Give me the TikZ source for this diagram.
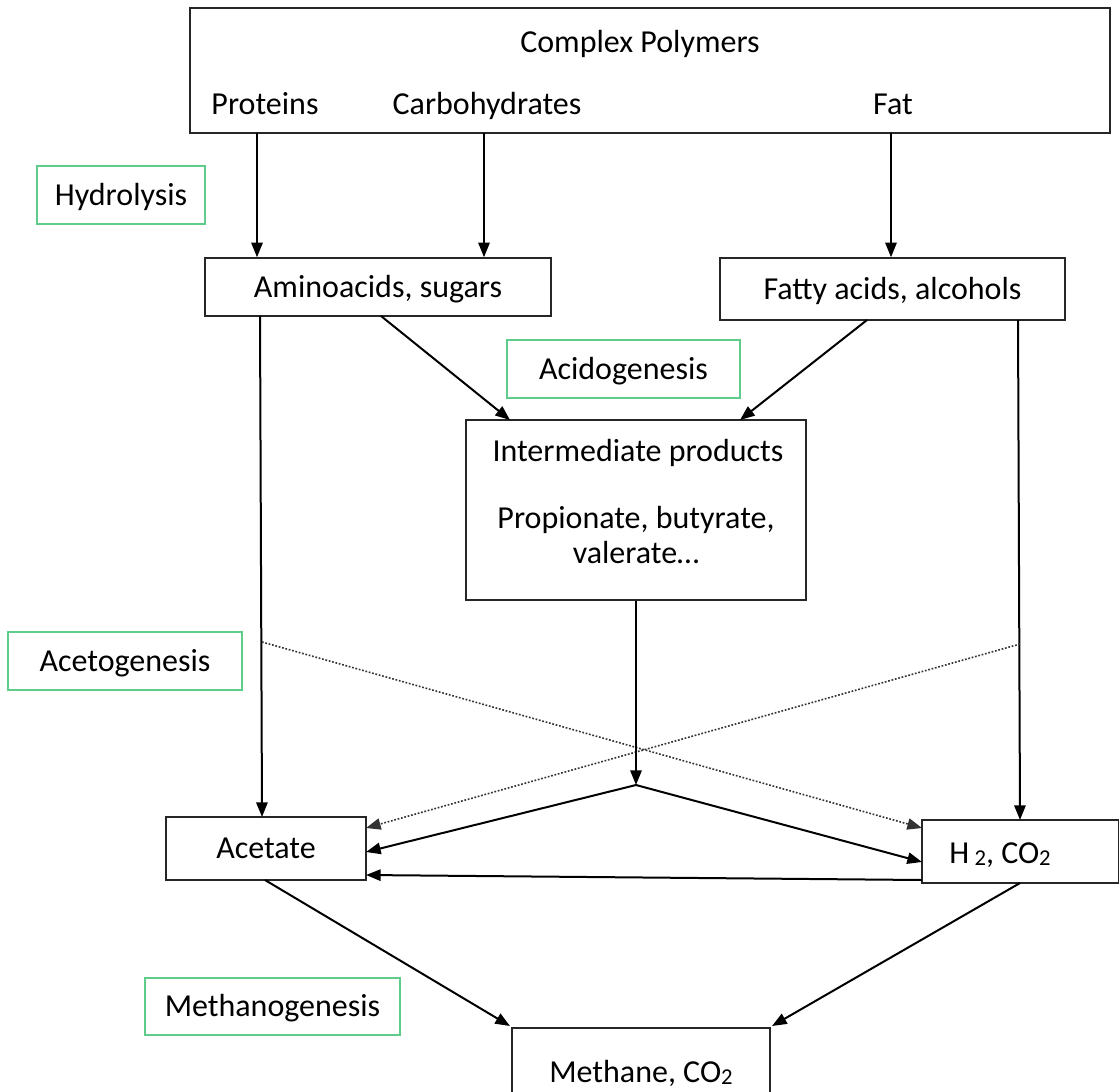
\documentclass[tikz,border=0pt]{standalone}
\usepackage{fontspec}
\setmainfont{Carlito}
\usetikzlibrary{arrows.meta}
\definecolor{stage}{RGB}{96,204,140}
\newcommand{\subtwo}{\raisebox{-0.08em}{\fontsize{17}{17}\selectfont 2}}
\begin{document}
\begin{tikzpicture}[x=0.75pt,y=-0.75pt,
  every node/.style={font=\fontsize{24}{26}\selectfont, inner sep=0pt, text height=15pt, text depth=0pt},
  bx/.style={draw=black!85, line width=1.1pt},
  stagebox/.style={draw=stage, line width=1.3pt},
  arr/.style={line width=1.5pt, -{Triangle[length=11pt,width=8.5pt]}},
  dotarr/.style={line width=1.2pt, dash pattern=on 1.3pt off 1.3pt, draw=black!80, -{Triangle[length=11pt,width=8.5pt]}}]
\useasboundingbox (0,0) rectangle (1119,1091);
\clip (0,0) rectangle (1119,1091);
% boxes
\node[bx, minimum width=920*0.75pt, minimum height=125*0.75pt] (top) at (650,70.5) {};
\node (cp) at (640,43) {Complex Polymers};
\node (prot) at (265,105) {Proteins};
\node (carb) at (487,105) {Carbohydrates};
\node (fat) at (893,105) {Fat};
\node[stagebox, minimum width=168*0.75pt, minimum height=58*0.75pt] (hyd) at (121,195) {Hydrolysis};
\node[bx, minimum width=346*0.75pt, minimum height=58*0.75pt] (am) at (378,287) {Aminoacids, sugars};
\node[bx, minimum width=345*0.75pt, minimum height=62*0.75pt] (fa) at (892.5,289) {Fatty acids, alcohols};
\node[stagebox, minimum width=233*0.75pt, minimum height=58*0.75pt] (acid) at (623.5,369) {Acidogenesis};
\node[bx, minimum width=340*0.75pt, minimum height=180*0.75pt] (inter) at (636,510) {};
\node (it1) at (638,451) {Intermediate products};
\node (it2) at (636,518) {Propionate, butyrate,};
\node (it3) at (636,553) {valerate…};
\node[stagebox, minimum width=234*0.75pt, minimum height=58*0.75pt] (aceto) at (125,661) {Acetogenesis};
\node[bx, minimum width=200*0.75pt, minimum height=63*0.75pt] (acet) at (266,848.5) {Acetate};
\node[bx, minimum width=197*0.75pt, minimum height=63*0.75pt] (h2) at (1020.5,851.5) {};
\node (h2t) at (1000,853) {H\,\subtwo, CO\subtwo};
\node[stagebox, minimum width=255*0.75pt, minimum height=57*0.75pt] (meth) at (272.5,1006.5) {Methanogenesis};
\node[bx, minimum width=258*0.75pt, minimum height=100*0.75pt] (mbox) at (641,1078) {};
\node (mt) at (641,1072) {Methane, CO\subtwo};
% coordinates
\coordinate (p1) at (257,133);
\coordinate (p2) at (484,133);
\coordinate (p3) at (891,133);
\coordinate (a1) at (381,316);
\coordinate (i1) at (510,420);
\coordinate (f1) at (867,320);
\coordinate (i2) at (740,420);
\coordinate (a2) at (260,316);
\coordinate (c1) at (262,817);
\coordinate (f2) at (1018,320);
\coordinate (h1) at (1020,820);
\coordinate (d1) at (262,642);
\coordinate (h3) at (922,828);
\coordinate (d2) at (1020,644);
\coordinate (c2) at (366,828);
\coordinate (jn) at (636,785);
\coordinate (c3) at (366,852);
\coordinate (h4) at (922,862);
\coordinate (h5) at (922,880);
\coordinate (c4) at (366,875);
\coordinate (c5) at (265,880);
\coordinate (m1) at (510,1026);
\coordinate (h6) at (1020,883);
\coordinate (m2) at (772,1026);
% connectors
\draw[arr] (p1) -- (p1 |- am.north);
\draw[arr] (p2) -- (p2 |- am.north);
\draw[arr] (p3) -- (p3 |- fa.north);
\draw[arr] (a1) -- (i1);
\draw[arr] (f1) -- (i2);
\draw[arr] (a2) -- (c1);
\draw[arr] (f2) -- (h1);
\draw[dotarr] (d1) -- (h3);
\draw[dotarr] (d2) -- (c2);
\draw[arr] (inter.south) -- (jn);
\draw[arr] (jn) -- (c3);
\draw[arr] (jn) -- (h4);
\draw[arr] (h5) -- (c4);
\draw[arr] (c5) -- (m1);
\draw[arr] (h6) -- (m2);
\end{tikzpicture}
\end{document}
